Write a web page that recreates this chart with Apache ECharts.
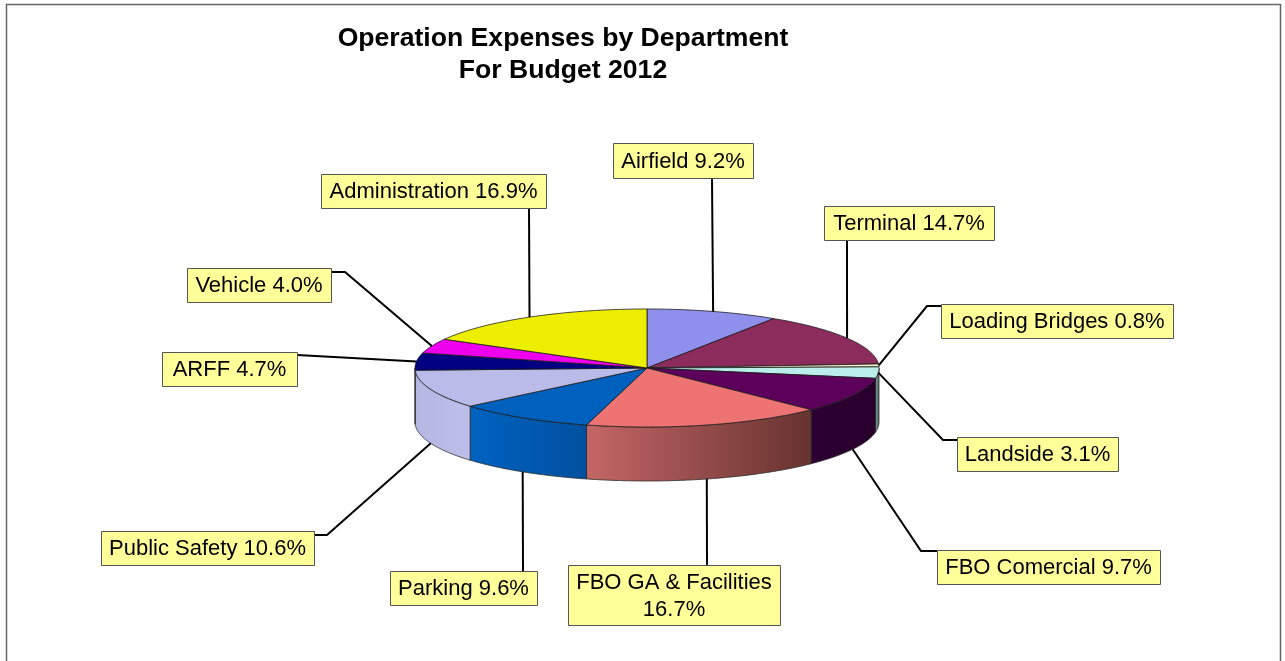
<!DOCTYPE html>
<html>
<head>
<meta charset="utf-8">
<style>
  html, body { margin: 0; padding: 0; background: #fff; }
  #main { width: 1285px; height: 661px; }
</style>
</head>
<body>
<div id="main"></div>
<script src="https://cdn.jsdelivr.net/npm/echarts@6/dist/echarts.min.js"></script>
<script>
// data, clockwise from 12 o'clock
const departments = ['Airfield', 'Terminal', 'Loading Bridges', 'Landside', 'FBO Comercial', 'FBO GA & Facilities', 'Parking', 'Public Safety', 'ARFF', 'Vehicle', 'Administration']
const shares = [9.2, 14.7, 0.8, 3.1, 9.7, 16.7, 9.6, 10.6, 4.7, 4.0, 16.9]

// styles
const topColors = ['#8F8FEC', '#8B2C5C', '#F6F0C4', '#BBEEEA', '#5C005C', '#EE7373', '#0060BE', '#BBBBE9', '#000080', '#EE00EE', '#EEEE00']
const wallColors = [null, null, null, ['#7C9896', '#4E6664'], ['#2C0032', '#28002C'], ['#C46666', '#66332F'], ['#0062C0', '#00509E'], ['#B6B6E2', '#BEBEEA'], ['#B6B6E2', '#B6B6E2'], null, null]

// label boxes [left, top, right, bottom], leader bend, does the leader end on the wall
const boxes = [
  { box: [613, 143, 753, 178], from: [712, 178], wall: false },
  { box: [824, 206, 994, 240], from: [847, 240], wall: false },
  { box: [941, 304, 1173, 338], from: [941, 306], bend: [927, 306], wall: false },
  { box: [957, 437, 1118, 471], from: [957, 440], bend: [943, 440], wall: false },
  { box: [937, 550, 1160, 584], from: [937, 551], bend: [921, 551], wall: true },
  { box: [568, 565, 780, 625], from: [707, 565], wall: true, wrap: true },
  { box: [390, 571, 537, 605], from: [523, 571], wall: true },
  { box: [101, 531, 314, 565], from: [314, 535], bend: [327, 535], wall: true },
  { box: [162, 352, 297, 386], from: [297, 355], wall: false },
  { box: [187, 268, 331, 302], from: [331, 272], bend: [345, 272], wall: false },
  { box: [321, 174, 546, 208], from: [529, 208], wall: false }
]

const depth = 54
const total = shares.reduce((a, b) => a + b, 0)

// cumulative start/end of every slice, in radians
let sum = 0
const slices = shares.map((v) => {
  const start = sum / total * Math.PI * 2
  sum += v
  return [start, sum / total * Math.PI * 2]
})

const rimPoint = (api, a) => api.coord([Math.sin(a), Math.cos(a)])

const arc = (api, a0, a1, dy) => {
  const pts = []
  const n = Math.max(2, Math.ceil((a1 - a0) / 0.01))
  for (let i = 0; i <= n; i++) {
    const p = rimPoint(api, a0 + (a1 - a0) * i / n)
    pts.push([p[0], p[1] + dy])
  }
  return pts
}

const renderWall = (params, api) => {
  const i = params.dataIndex
  const a0 = Math.max(api.value(0), Math.PI / 2)
  const a1 = Math.min(api.value(1), Math.PI * 1.5)
  if (a1 <= a0 || !wallColors[i]) return null
  const pts = arc(api, a0, a1, 0).concat(arc(api, a0, a1, depth).reverse())
  return {
    type: 'polygon',
    shape: { points: pts },
    style: {
      fill: new echarts.graphic.LinearGradient(0, 0, 1, 0, [
        { offset: 0, color: wallColors[i][0] },
        { offset: 1, color: wallColors[i][1] }
      ]),
      stroke: '#2a2a2a',
      lineWidth: 0.8
    }
  }
}

const renderTop = (params, api) => {
  const i = params.dataIndex
  const pts = [api.coord([0, 0])].concat(arc(api, api.value(0), api.value(1), 0))
  return {
    type: 'polygon',
    shape: { points: pts },
    style: { fill: topColors[i], stroke: '#1c1c1c', lineWidth: 0.8 }
  }
}

const renderLabel = (params, api) => {
  const i = params.dataIndex
  const l = boxes[i]
  const mid = (api.value(0) + api.value(1)) / 2
  const end = rimPoint(api, mid)
  if (l.wall) end[1] += depth
  const line = [l.from]
  if (l.bend) line.push(l.bend)
  line.push(end)
  const [x0, y0, x1, y1] = l.box
  const text = departments[i] + (l.wrap ? '\n' : ' ') + shares[i].toFixed(1) + '%'
  return {
    type: 'group',
    children: [
      {
        type: 'polyline',
        shape: { points: line },
        style: { fill: 'none', stroke: '#000', lineWidth: 2 }
      },
      {
        type: 'rect',
        shape: { x: x0 + 0.5, y: y0 + 0.5, width: x1 - x0, height: y1 - y0 },
        style: { fill: '#FFFF99', stroke: '#555', lineWidth: 1 }
      },
      {
        type: 'text',
        style: {
          x: (x0 + x1) / 2,
          y: (y0 + y1) / 2 + 1,
          text: text,
          align: 'center',
          verticalAlign: 'middle',
          lineHeight: 27,
          font: '22px "Liberation Sans", Arial, sans-serif',
          fill: '#000'
        }
      }
    ]
  }
}

const chart = echarts.init(document.getElementById('main'), null, { renderer: 'canvas' })
chart.setOption({
  animation: false,
  backgroundColor: '#fff',
  title: {
    text: 'Operation Expenses by Department\nFor Budget 2012',
    left: 558,
    top: 18,
    textAlign: 'center',
    textStyle: {
      fontFamily: '"Liberation Sans", Arial, sans-serif',
      fontSize: 26.6,
      fontWeight: 'bold',
      color: '#000',
      lineHeight: 32
    }
  },
  graphic: [{
    type: 'rect',
    shape: { x: 6.5, y: 4.5, width: 1274, height: 700 },
    style: { fill: 'none', stroke: '#666', lineWidth: 1.5 },
    silent: true
  }],
  grid: { left: 415, top: 309, width: 464, height: 118 },
  xAxis: { type: 'value', min: -1, max: 1, show: false },
  yAxis: { type: 'value', min: -1, max: 1, show: false },
  series: [
    { type: 'custom', z: 2, clip: false, silent: true, data: slices, renderItem: renderWall },
    { type: 'custom', z: 3, clip: false, silent: true, data: slices, renderItem: renderTop },
    { type: 'custom', z: 4, clip: false, silent: true, data: slices, renderItem: renderLabel }
  ]
})
</script>
</body>
</html>
